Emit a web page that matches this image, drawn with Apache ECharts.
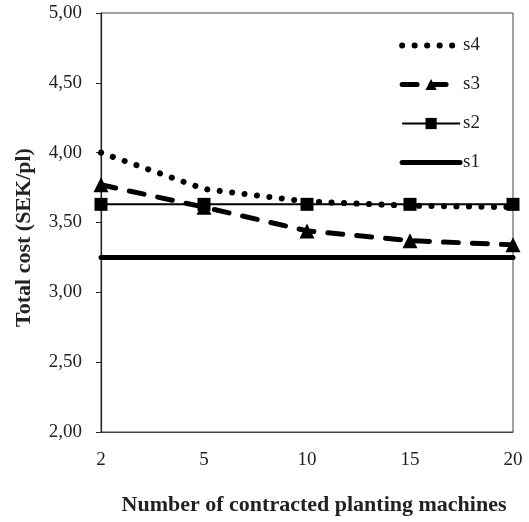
<!DOCTYPE html>
<html>
<head>
<meta charset="utf-8">
<script src="https://cdn.jsdelivr.net/npm/echarts@6/dist/echarts.min.js"></script>
<style>
  html, body { margin: 0; padding: 0; background: #fff; }
  #chart { width: 529px; height: 522px; }
</style>
</head>
<body>
<div id="chart"></div>
<script>
// number of contracted planting machines
const machines = ['2', '5', '10', '15', '20']

// total cost (SEK/pl) per scenario
const s1 = [3.25, 3.25, 3.25, 3.25, 3.25]
const s2 = [3.63, 3.63, 3.63, 3.63, 3.63]
const s3 = [3.77, 3.61, 3.44, 3.37, 3.34]
const s4 = [4.00, 3.74, 3.65, 3.62, 3.61]

const font = '"Liberation Serif", "Times New Roman", serif'
const ink = '#000'

const chart = echarts.init(document.getElementById('chart'))

chart.setOption({
  animation: false,
  textStyle: { fontFamily: font },
  grid: {
    left: 101, right: 16, top: 13, bottom: 90,
    show: true, borderColor: '#444', borderWidth: 1
  },
  legend: {
    orient: 'vertical',
    right: 44, top: 31,
    itemWidth: 58, itemHeight: 14, itemGap: 20,
    lineStyle: { width: 'inherit' },
    textStyle: { fontFamily: font, fontSize: 19, color: '#222', padding: [0, 0, 0, -2] },
    data: [
      { name: 's4', itemStyle: { opacity: 0 } },
      { name: 's3' },
      { name: 's2' },
      { name: 's1', itemStyle: { opacity: 0 } }
    ]
  },
  xAxis: {
    type: 'category',
    data: machines,
    boundaryGap: false,
    axisLine: { lineStyle: { color: '#444', width: 1 } },
    axisTick: { show: false },
    axisLabel: { fontFamily: font, fontSize: 19, color: '#222', margin: 19 },
    name: 'Number of contracted planting machines',
    nameLocation: 'middle',
    nameGap: 62,
    nameTextStyle: {
      fontFamily: font, fontSize: 22, fontWeight: 'bold', color: '#222',
      padding: [0, 0, 0, 14]
    }
  },
  yAxis: {
    type: 'value',
    min: 2, max: 5, interval: 0.5,
    splitLine: { show: false },
    axisLine: { show: true, lineStyle: { color: '#222', width: 1.2 } },
    axisTick: { show: true, length: 5, lineStyle: { color: '#222' } },
    axisLabel: {
      fontFamily: font, fontSize: 19, color: '#222', margin: 19,
      formatter: v => v.toFixed(2).replace('.', ',')
    },
    name: 'Total cost (SEK/pl)',
    nameLocation: 'middle',
    nameGap: 66,
    nameTextStyle: {
      fontFamily: font, fontSize: 22, fontWeight: 'bold', color: '#222',
      padding: [0, 30, 0, 0]
    }
  },
  series: [
    {
      name: 's1', type: 'line', data: s1,
      symbol: 'none',
      lineStyle: { color: ink, width: 5, cap: 'round' },
      itemStyle: { color: ink },
      z: 2
    },
    {
      name: 's2', type: 'line', data: s2,
      symbol: 'rect', symbolSize: 13,
      lineStyle: { color: ink, width: 2 },
      itemStyle: { color: ink },
      z: 5
    },
    {
      name: 's3', type: 'line', data: s3,
      symbol: 'triangle', symbolSize: 15,
      lineStyle: { color: ink, width: 5, type: [15, 14], cap: 'round' },
      itemStyle: { color: ink },
      z: 4
    },
    {
      name: 's4', type: 'line', data: s4,
      symbol: 'none',
      lineStyle: { color: ink, width: 6, type: [0.1, 12.4], cap: 'round' },
      itemStyle: { color: ink },
      z: 3
    }
  ]
})
</script>
</body>
</html>
